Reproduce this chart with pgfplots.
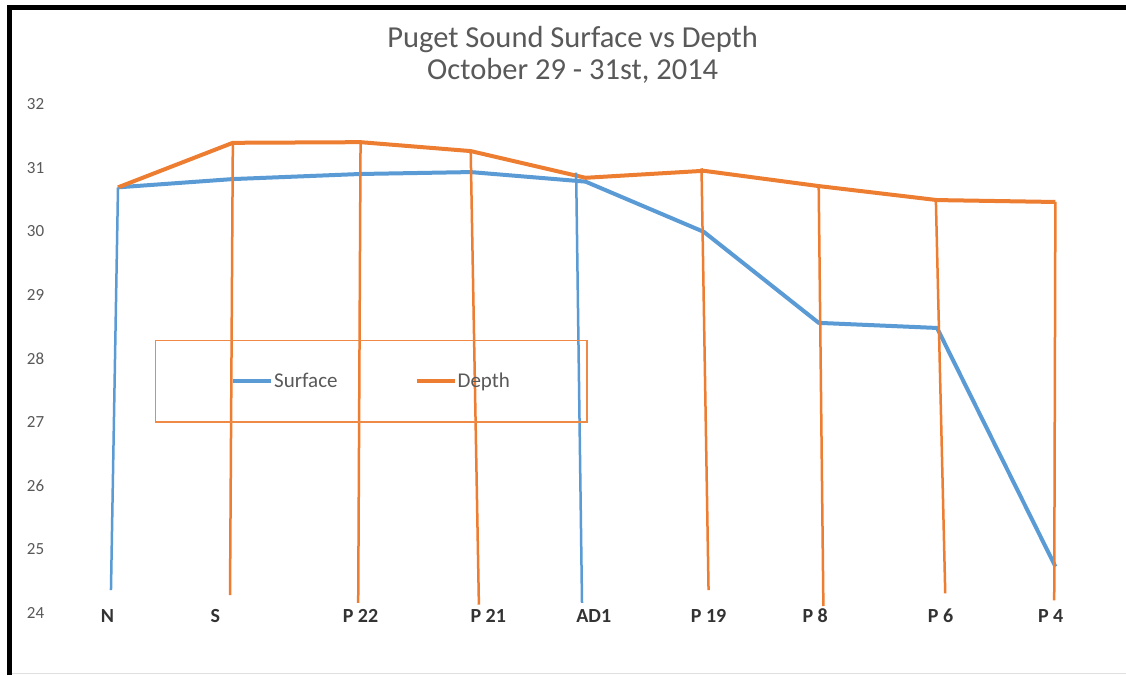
\documentclass[border=0pt]{standalone}
\usepackage{pgfplots}
\pgfplotsset{compat=1.18}
\usepackage{fontspec}
\setmainfont{Carlito}
\definecolor{sblue}{HTML}{5B9BD5}
\definecolor{sorange}{HTML}{ED7D31}
\definecolor{tgray}{HTML}{595959}
\begin{document}
\begin{tikzpicture}
\useasboundingbox (0,0) rectangle (1126pt,675pt);
\fill[white] (0,0) rectangle (1126pt,675pt);
\begin{axis}[
 at={(47.7pt,62pt)}, anchor=south west,
 scale only axis, width=1078pt, height=509pt,
 xmin=-0.6, xmax=8.6, ymin=24, ymax=32,
 axis line style={draw=none},
 major tick length=0pt,
 ytick={24,25,...,32},
 xtick={-0.09,0.83,2.07,3.16,4.06,5.04,5.95,7.02,7.96},
 xticklabels={N,S,P 22,P 21,AD1,P 19,P 8,P 6,P 4},
 xticklabel style={anchor=center, yshift=-3pt, font=\fontsize{20}{24}\selectfont\bfseries, text=black!80},
 yticklabel style={font=\fontsize{17}{19}\selectfont, text=tgray},
 /pgf/number format/assume math mode=true,
 title={Puget Sound Surface vs Depth\\October 29 - 31st, 2014},
 title style={at={(axis description cs:0.487,1.084)}, anchor=center, align=center, font=\fontsize{30.5}{32}\selectfont, text=tgray},
 legend columns=2,
 legend cell align=left,
 legend style={at={(axis description cs:0.300,0.455)}, anchor=center, draw=sorange!90, fill=none, line width=1.2pt,
   inner xsep=76pt, inner ysep=30.5pt, font=\fontsize{21}{24}\selectfont, text=tgray,
   nodes={inner xsep=1pt, inner ysep=2pt},
   /tikz/every even column/.append style={column sep=76pt}},
 legend image code/.code={\draw[#1] (0pt,0pt) -- (38pt,0pt);},
 clip=false,
]
\addplot[sblue, line width=4pt, line join=round] coordinates {(0,30.69)(0.98,30.82)(2.07,30.90)(3.01,30.93)(3.99,30.78)(5.0,29.99)(5.98,28.56)(6.99,28.48)(8,24.73)};
\addlegendentry{Surface}
\addplot[sorange, line width=4pt, line join=round] coordinates {(0,30.69)(0.98,31.39)(2.07,31.40)(3.01,31.26)(3.99,30.84)(5.0,30.95)(5.98,30.71)(6.99,30.49)(8,30.46)};
\addlegendentry{Depth}
% hand-drawn drop lines
\addplot[forget plot, sblue, line width=2.5pt] coordinates {(0,30.69)(-0.06,24.36)};
\addplot[forget plot, sorange, line width=2.5pt] coordinates {(0.98,31.39)(0.956,24.28)};
\addplot[forget plot, sorange, line width=2.5pt] coordinates {(2.07,31.40)(2.05,24.16)};
\addplot[forget plot, sorange, line width=2.5pt] coordinates {(3.01,31.26)(3.08,24.13)};
\addplot[forget plot, sblue, line width=2.5pt] coordinates {(3.91,30.92)(3.96,24.16)};
\addplot[forget plot, sorange, line width=2.5pt] coordinates {(4.98,30.99)(5.04,24.36)};
\addplot[forget plot, sorange, line width=2.5pt] coordinates {(5.98,30.71)(6.02,24.11)};
\addplot[forget plot, sorange, line width=2.5pt] coordinates {(6.98,30.49)(7.06,24.31)};
\addplot[forget plot, sorange, line width=2.5pt] coordinates {(8,30.46)(7.99,24.20)};
\end{axis}
\draw[black, line width=5pt] (9.5pt,0pt) -- (9.5pt,667.5pt) -- (1126pt,667.5pt);
\draw[black!12, line width=1pt] (12pt,2pt) -- (1126pt,2pt);
\end{tikzpicture}
\end{document}
